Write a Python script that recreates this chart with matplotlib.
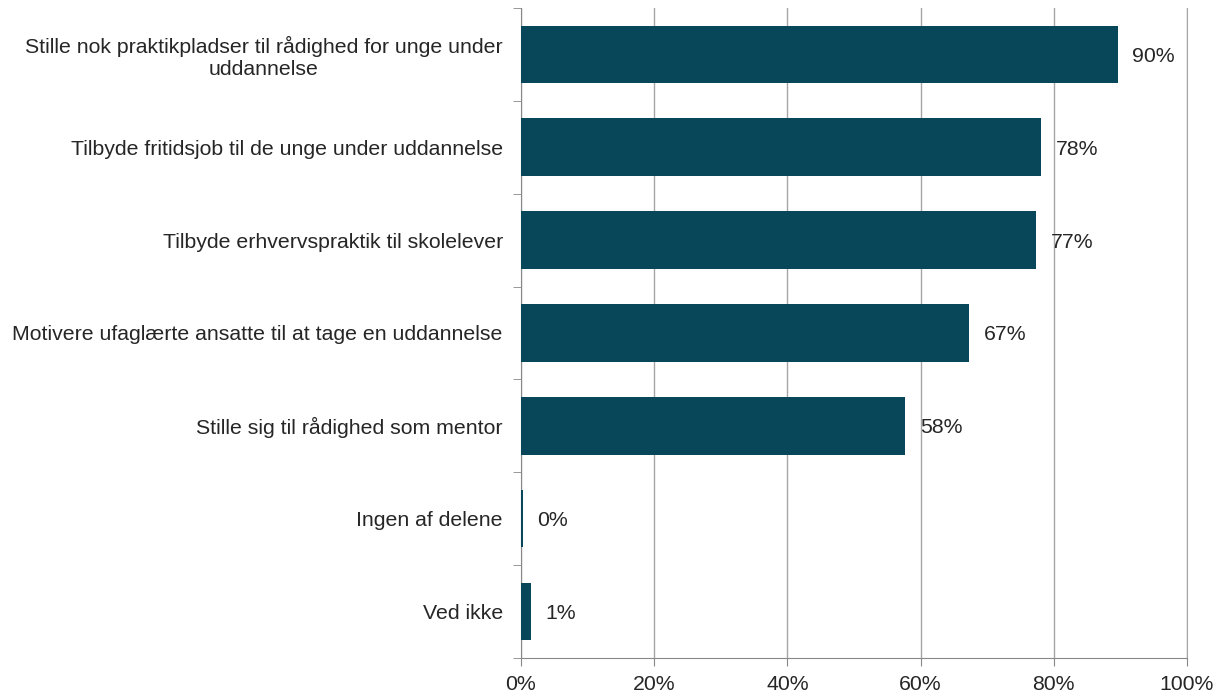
import numpy as np
import matplotlib.pyplot as plt
from matplotlib.ticker import FuncFormatter

categories = ["Stille nok praktikpladser til rådighed for unge under\nuddannelse",
              "Tilbyde fritidsjob til de unge under uddannelse",
              "Tilbyde erhvervspraktik til skolelever",
              "Motivere ufaglærte ansatte til at tage en uddannelse",
              "Stille sig til rådighed som mentor",
              "Ingen af delene",
              "Ved ikke"]
values = [89.6, 78.1, 77.3, 67.3, 57.7, 0.3, 1.5]
labels = ["90%", "78%", "77%", "67%", "58%", "0%", "1%"]

plt.rcParams['font.family'] = ['Liberation Sans', 'DejaVu Sans']
fs = 15.3
txtcol = '#262626'

fig = plt.figure(figsize=(12.17, 6.94), dpi=100)
ax = fig.add_axes([0.428, 0.052, 0.5474, 0.9365])

y = np.arange(len(categories))
ax.barh(y, values, height=0.62, color='#08475a', zorder=3)
for yi, v, lab in zip(y, values, labels):
    ax.text(v + 2.2, yi, lab, va='center_baseline', ha='left', fontsize=fs, color=txtcol)

ax.set_xlim(0, 100)
ax.set_ylim(len(categories) - 0.5, -0.5)
ax.set_xticks(np.arange(0, 101, 20))
ax.xaxis.set_major_formatter(FuncFormatter(lambda x, p: f"{int(x)}%"))
ax.grid(axis='x', color='#a6a6a6', linewidth=1, zorder=0)

ax.set_yticks(y)
ax.set_yticklabels(categories, multialignment='center')
for t in ax.get_yticklabels():
    t.set_linespacing(1.15)
ax.set_yticks(np.arange(-0.5, len(categories)), minor=True)
ax.tick_params(axis='y', which='major', length=0, pad=13, labelsize=fs, labelcolor=txtcol)
ax.tick_params(axis='y', which='minor', length=6, color='#888888', direction='out')
ax.tick_params(axis='x', length=6, color='#888888', labelsize=fs, labelcolor=txtcol, pad=6)

ax.spines['top'].set_visible(False)
ax.spines['right'].set_color('#a6a6a6')
for s in ['left', 'bottom']:
    ax.spines[s].set_color('#888888')

plt.savefig("out.png", dpi=100)
